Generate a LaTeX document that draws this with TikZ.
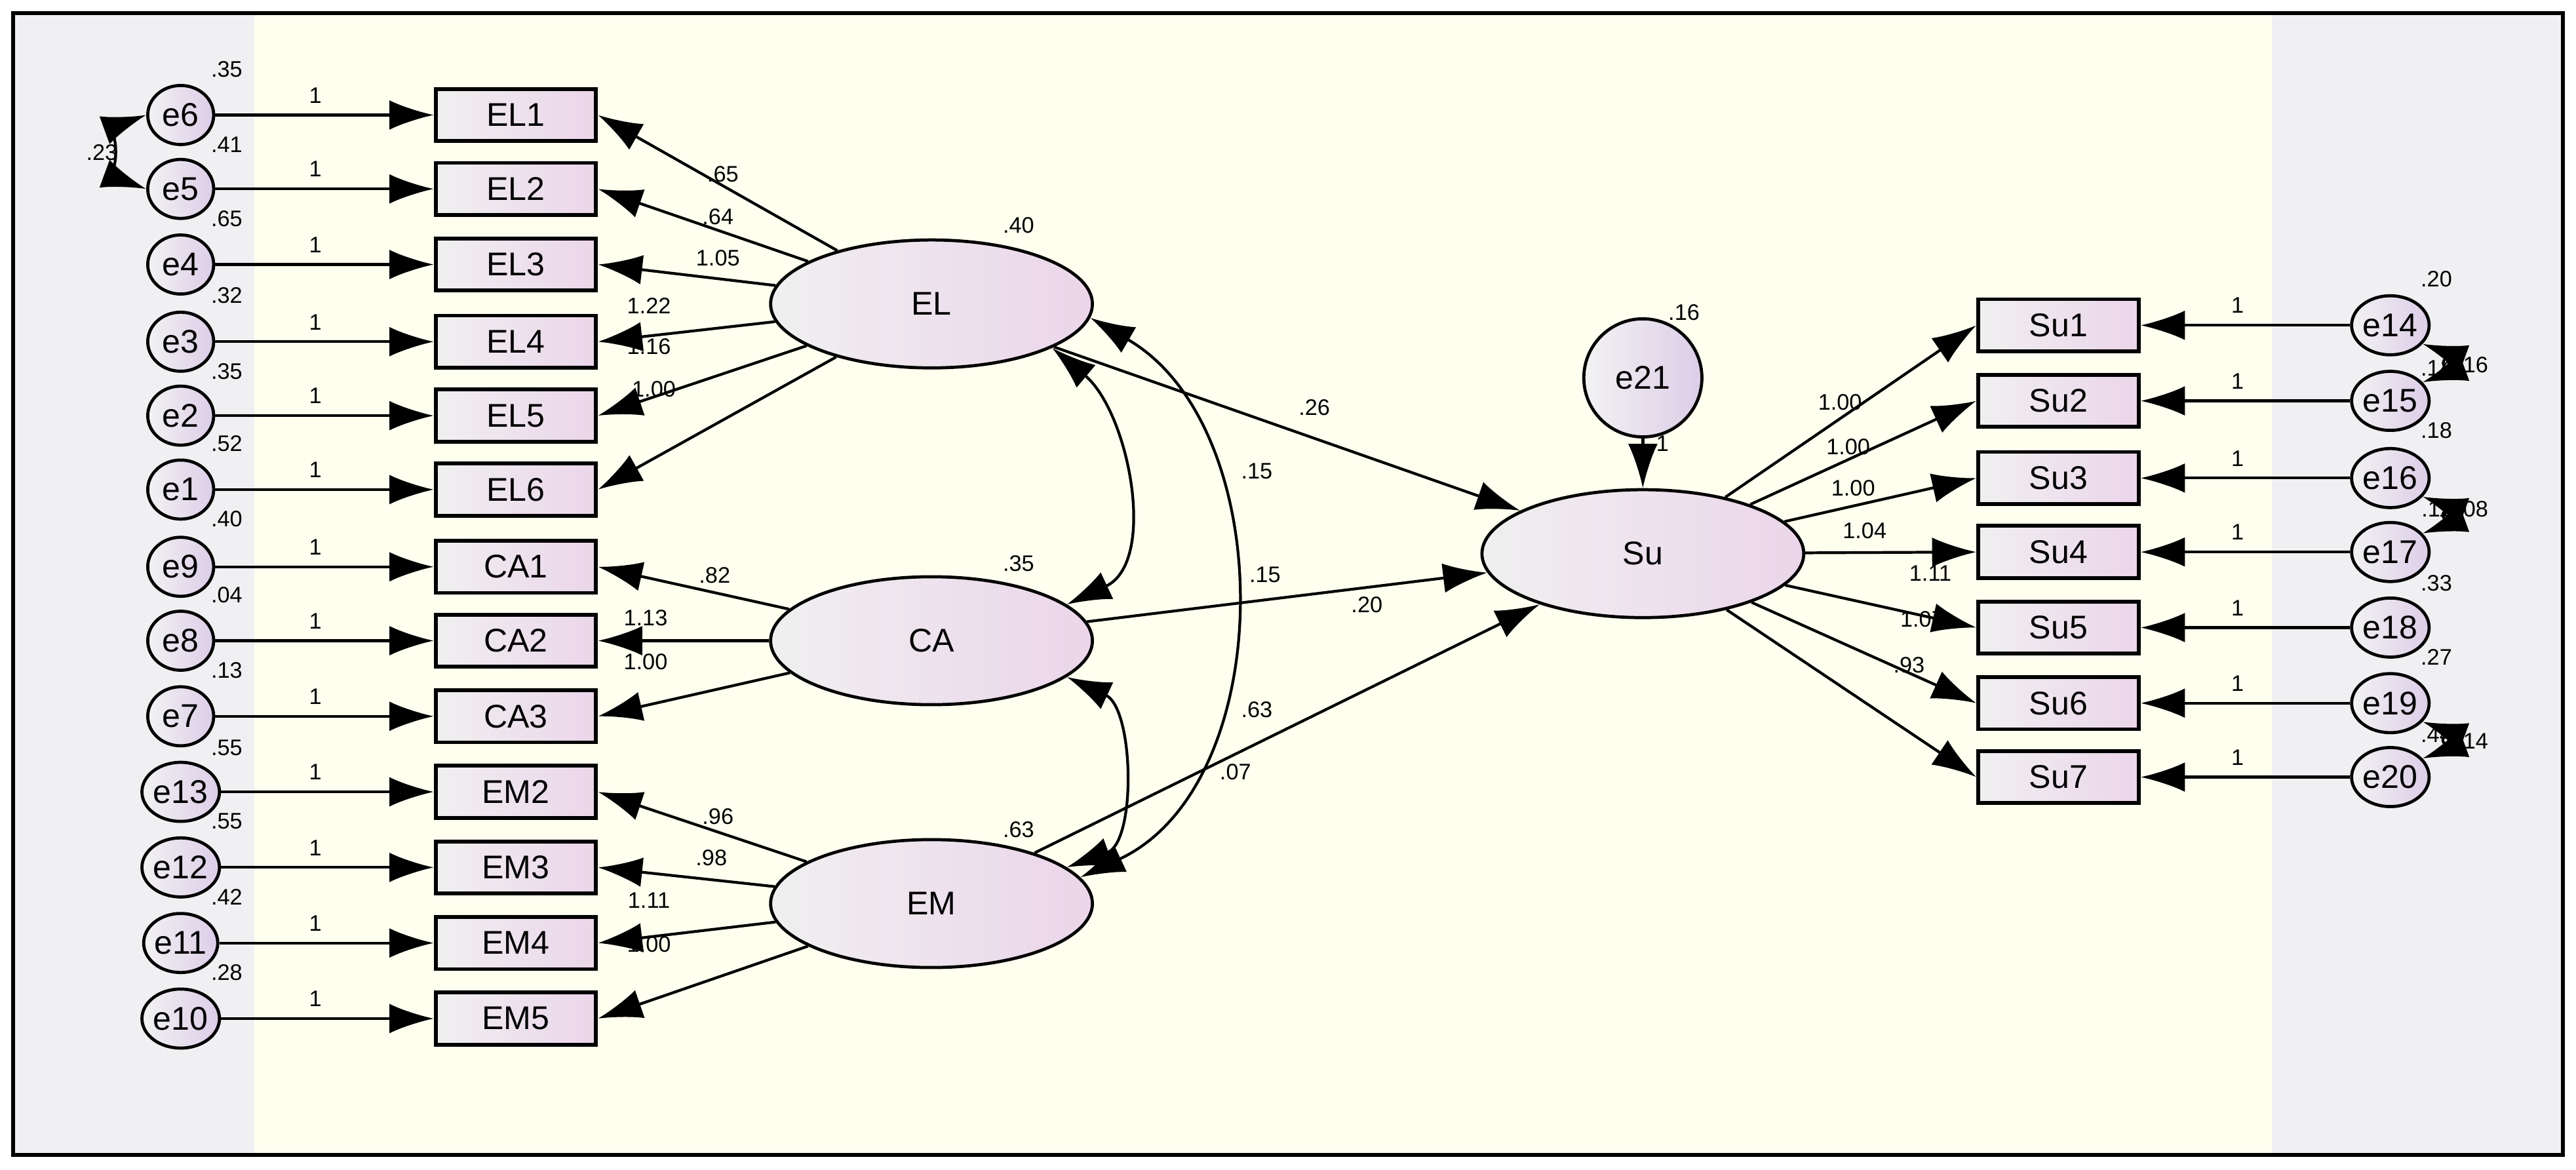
\documentclass[tikz,border=0pt]{standalone}
\usepackage{fontspec}
\setmainfont{Liberation Sans}
\usetikzlibrary{arrows.meta,shapes.geometric}
\definecolor{band}{HTML}{F0F0F2}
\definecolor{cream}{HTML}{FFFFF0}
\definecolor{lav}{HTML}{EBD5EA}
\definecolor{ev}{HTML}{DCCDE8}
\tikzset{obs/.style={draw=black,line width=1.1pt,rectangle,left color=gray!12,right color=lav,minimum width=1.63cm,minimum height=0.53cm,inner sep=0pt,font=\fontsize{9.5}{10}\selectfont}}
\tikzset{lat/.style={draw=black,line width=0.9pt,ellipse,left color=gray!12,right color=lav,minimum width=3.27cm,minimum height=1.3cm,inner sep=0pt,font=\fontsize{9.5}{10}\selectfont}}
\tikzset{err/.style={draw=black,line width=0.9pt,ellipse,left color=gray!10,right color=ev,minimum width=0.67cm,minimum height=0.6cm,inner sep=0pt,font=\fontsize{9.5}{10}\selectfont}}
\tikzset{lbl/.style={font=\fontsize{6.5}{7}\selectfont,inner sep=0pt}}
\tikzset{pth/.style={-{Latex[length=4.5mm,width=3mm]},line width=0.8pt}}
\tikzset{cov/.style={{Latex[length=4.5mm,width=3mm]}-{Latex[length=4.5mm,width=3mm]},line width=0.8pt}}

\begin{document}
\begin{tikzpicture}[x=0.0167cm,y=-0.0167cm]
    \useasboundingbox (0,0) rectangle (1568,712);
    \fill[white] (0,0) rectangle (1568,712);
    \fill[cream] (155,8) rectangle (1383,703);
    \fill[band] (8,8) rectangle (155,703);
    \fill[band] (1383,8) rectangle (1560,703);
    \draw[line width=1pt] (8,8) rectangle (1560,703);

    % latent variables
    \node[lat] (EL) at (567,185) {EL};
    \node[lat] (CA) at (567,390) {CA};
    \node[lat] (EM) at (567,550) {EM};
    \node[lat] (Su) at (1000,337) {Su};
    \node[err,minimum width=1.2cm,minimum height=1.2cm] (e21) at (1000,230) {e21};

    % left indicators
    \node[obs] (EL1) at (314,70) {EL1};
    \node[obs] (EL2) at (314,115) {EL2};
    \node[obs] (EL3) at (314,161) {EL3};
    \node[obs] (EL4) at (314,208) {EL4};
    \node[obs] (EL5) at (314,253) {EL5};
    \node[obs] (EL6) at (314,298) {EL6};
    \node[obs] (CA1) at (314,345) {CA1};
    \node[obs] (CA2) at (314,390) {CA2};
    \node[obs] (CA3) at (314,436) {CA3};
    \node[obs] (EM2) at (314,482) {EM2};
    \node[obs] (EM3) at (314,528) {EM3};
    \node[obs] (EM4) at (314,574) {EM4};
    \node[obs] (EM5) at (314,620) {EM5};

    \node[err] (e6) at (110,70) {e6};
    \node[err] (e5) at (110,115) {e5};
    \node[err] (e4) at (110,161) {e4};
    \node[err] (e3) at (110,208) {e3};
    \node[err] (e2) at (110,253) {e2};
    \node[err] (e1) at (110,298) {e1};
    \node[err] (e9) at (110,345) {e9};
    \node[err] (e8) at (110,390) {e8};
    \node[err] (e7) at (110,436) {e7};
    \node[err] (e13) at (110,482) {e13};
    \node[err] (e12) at (110,528) {e12};
    \node[err] (e11) at (110,574) {e11};
    \node[err] (e10) at (110,620) {e10};

    % right indicators
    \node[obs] (Su1) at (1253,198) {Su1};
    \node[obs] (Su2) at (1253,244) {Su2};
    \node[obs] (Su3) at (1253,291) {Su3};
    \node[obs] (Su4) at (1253,336) {Su4};
    \node[obs] (Su5) at (1253,382) {Su5};
    \node[obs] (Su6) at (1253,428) {Su6};
    \node[obs] (Su7) at (1253,473) {Su7};

    \node[err] (e14) at (1455,198) {e14};
    \node[err] (e15) at (1455,244) {e15};
    \node[err] (e16) at (1455,291) {e16};
    \node[err] (e17) at (1455,336) {e17};
    \node[err] (e18) at (1455,382) {e18};
    \node[err] (e19) at (1455,428) {e19};
    \node[err] (e20) at (1455,473) {e20};

    % error paths
    \draw[pth] (e6) -- (EL1); \draw[pth] (e5) -- (EL2);
    \draw[pth] (e4) -- (EL3); \draw[pth] (e3) -- (EL4);
    \draw[pth] (e2) -- (EL5); \draw[pth] (e1) -- (EL6);
    \draw[pth] (e9) -- (CA1); \draw[pth] (e8) -- (CA2);
    \draw[pth] (e7) -- (CA3); \draw[pth] (e13) -- (EM2);
    \draw[pth] (e12) -- (EM3); \draw[pth] (e11) -- (EM4);
    \draw[pth] (e10) -- (EM5);
    \draw[pth] (e14) -- (Su1); \draw[pth] (e15) -- (Su2);
    \draw[pth] (e16) -- (Su3); \draw[pth] (e17) -- (Su4);
    \draw[pth] (e18) -- (Su5); \draw[pth] (e19) -- (Su6);
    \draw[pth] (e20) -- (Su7);
    \draw[pth] (e21) -- (Su);

    % loadings
    \draw[pth] (EL) -- (EL1.east); \draw[pth] (EL) -- (EL2.east);
    \draw[pth] (EL) -- (EL3.east); \draw[pth] (EL) -- (EL4.east);
    \draw[pth] (EL) -- (EL5.east); \draw[pth] (EL) -- (EL6.east);
    \draw[pth] (CA) -- (CA1.east); \draw[pth] (CA) -- (CA2.east);
    \draw[pth] (CA) -- (CA3.east);
    \draw[pth] (EM) -- (EM2.east); \draw[pth] (EM) -- (EM3.east);
    \draw[pth] (EM) -- (EM4.east); \draw[pth] (EM) -- (EM5.east);
    \draw[pth] (Su) -- (Su1.west); \draw[pth] (Su) -- (Su2.west);
    \draw[pth] (Su) -- (Su3.west); \draw[pth] (Su) -- (Su4.west);
    \draw[pth] (Su) -- (Su5.west); \draw[pth] (Su) -- (Su6.west);
    \draw[pth] (Su) -- (Su7.west);

    % structural paths
    \draw[pth] (EL) -- (Su); \draw[pth] (CA) -- (Su); \draw[pth] (EM) -- (Su);

    % covariances
    \draw[cov] (EL.-20) to[out=-40,in=25] (CA.15);
    \draw[cov] (EL.-5) to[out=-30,in=25] (EM.10);
    \draw[cov] (CA.-15) to[out=-25,in=20] (EM.15);
    \draw[cov] (e6.west) to[out=200,in=160] (e5.west);
    \draw[cov] (e14.-30) to[out=-20,in=20] (e15.30);
    \draw[cov] (e16.-30) to[out=-20,in=20] (e17.30);
    \draw[cov] (e19.-30) to[out=-20,in=20] (e20.30);

    % estimates
    \node[lbl] (vEL) at (620,137) {.40};
    \node[lbl] (vCA) at (620,343) {.35};
    \node[lbl] (vEM) at (620,505) {.63};
    \node[lbl] (v21) at (1025,190) {.16};
    \node[lbl] (w21) at (1012,270) {1};
    \node[lbl] (c1) at (765,287) {.15};
    \node[lbl] (c2) at (832,368) {.20};
    \node[lbl] (c3) at (752,470) {.07};
    \node[lbl] (c4) at (62,93) {.23};
    \node[lbl] (r1) at (800,248) {.26};
    \node[lbl] (r2) at (770,350) {.15};
    \node[lbl] (r3) at (765,432) {.63};

    \node[lbl] at (440,106) {.65}; \node[lbl] at (437,132) {.64};
    \node[lbl] at (437,157) {1.05}; \node[lbl] at (395,186) {1.22};
    \node[lbl] at (395,211) {1.16}; \node[lbl] at (398,237) {1.00};
    \node[lbl] at (435,350) {.82}; \node[lbl] at (393,376) {1.13};
    \node[lbl] at (393,403) {1.00};
    \node[lbl] at (437,497) {.96}; \node[lbl] at (433,522) {.98};
    \node[lbl] at (395,548) {1.11}; \node[lbl] at (395,575) {1.00};

    \node[lbl] at (1120,245) {1.00}; \node[lbl] at (1125,272) {1.00};
    \node[lbl] at (1128,297) {1.00}; \node[lbl] at (1135,323) {1.04};
    \node[lbl] at (1175,349) {1.11}; \node[lbl] at (1170,377) {1.07};
    \node[lbl] at (1162,405) {.93};

    \node[lbl] at (138,42) {.35}; \node[lbl] at (138,88) {.41};
    \node[lbl] at (138,133) {.65}; \node[lbl] at (138,180) {.32};
    \node[lbl] at (138,226) {.35}; \node[lbl] at (138,270) {.52};
    \node[lbl] at (138,316) {.40}; \node[lbl] at (138,362) {.04};
    \node[lbl] at (138,408) {.13}; \node[lbl] at (138,455) {.55};
    \node[lbl] at (138,500) {.55}; \node[lbl] at (138,546) {.42};
    \node[lbl] at (138,592) {.28};

    \node[lbl] at (1483,170) {.20}; \node[lbl] at (1483,224) {.14};
    \node[lbl] at (1505,222) {.16}; \node[lbl] at (1483,262) {.18};
    \node[lbl] at (1483,310) {.11}; \node[lbl] at (1505,310) {.08};
    \node[lbl] at (1483,355) {.33}; \node[lbl] at (1483,400) {.27};
    \node[lbl] at (1483,447) {.44}; \node[lbl] at (1505,451) {.14};

    \node[lbl] at (192,58) {1}; \node[lbl] at (192,103) {1};
    \node[lbl] at (192,149) {1}; \node[lbl] at (192,196) {1};
    \node[lbl] at (192,241) {1}; \node[lbl] at (192,286) {1};
    \node[lbl] at (192,333) {1}; \node[lbl] at (192,378) {1};
    \node[lbl] at (192,424) {1}; \node[lbl] at (192,470) {1};
    \node[lbl] at (192,516) {1}; \node[lbl] at (192,562) {1};
    \node[lbl] at (192,608) {1};
    \node[lbl] at (1362,186) {1}; \node[lbl] at (1362,232) {1};
    \node[lbl] at (1362,279) {1}; \node[lbl] at (1362,324) {1};
    \node[lbl] at (1362,370) {1}; \node[lbl] at (1362,416) {1};
    \node[lbl] at (1362,461) {1};
\end{tikzpicture}
\end{document}
